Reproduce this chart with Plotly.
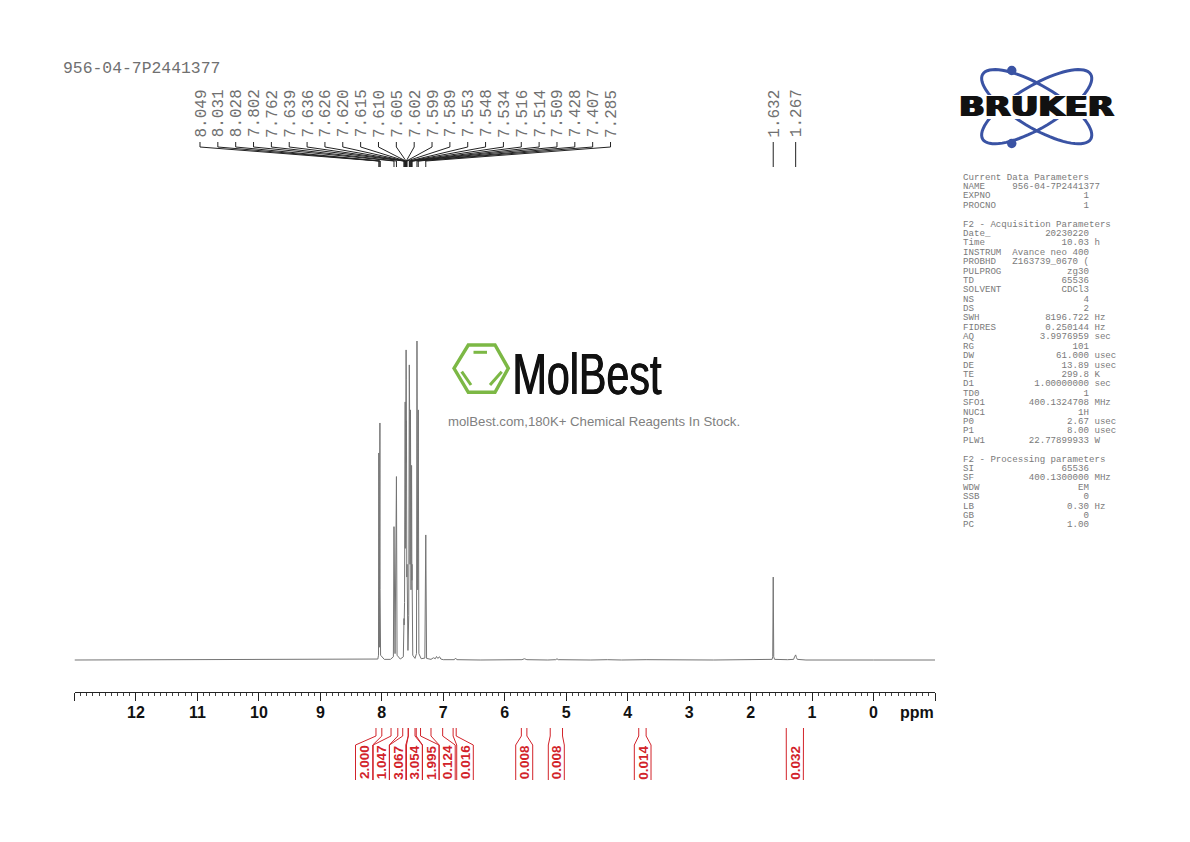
import numpy as np
import plotly.graph_objects as go

W, H = 1190, 842

# spectrum: ppm and relative intensity (tallest peak = 100)
spectrum_ppm = [13.0, 11.2, 9.6, 8.6, 8.2, 8.065, 8.054, 8.049, 8.040, 8.031, 8.029, 8.028, 8.020, 7.96, 7.86, 7.812,
                7.802, 7.785, 7.762, 7.752, 7.70, 7.65, 7.639, 7.637, 7.636, 7.63, 7.626, 7.623, 7.620, 7.617, 7.615, 7.612,
                7.610, 7.607, 7.605, 7.603, 7.602, 7.600, 7.599, 7.594, 7.589, 7.575, 7.562, 7.553, 7.550, 7.548, 7.541,
                7.534, 7.525, 7.516, 7.515, 7.514, 7.511, 7.509, 7.497, 7.46, 7.436, 7.428, 7.417, 7.407, 7.397, 7.36, 7.30,
                7.285, 7.272, 7.20, 7.16, 7.13, 7.11, 7.09, 7.06, 7.04, 7.0, 6.9, 6.82, 6.80, 6.78, 6.4, 5.72, 5.68, 5.64,
                5.3, 5.17, 5.15, 5.13, 4.6, 4.36, 4.33, 4.1, 3.74, 3.72, 3.70, 2.6, 1.95, 1.65, 1.64, 1.632, 1.624, 1.61,
                1.40, 1.30, 1.285, 1.267, 1.255, 1.24, 1.1, 0.4, 0.0, -1.0]
spectrum_int = [0.0, 0.1, 0.0, 0.1, 0.1, 0.3, 1.5, 64.9, 4.0, 74.3, 24.0, 22.0, 1.5, 0.2, 0.2, 1.0,
                41.8, 2.0, 57.5, 1.5, 0.3, 1.0, 13.0, 11.0, 12.0, 18.0, 35.0, 28.0, 80.9, 35.0, 47.0, 38.0,
                60.0, 45.0, 97.2, 80.0, 88.0, 62.0, 75.0, 26.0, 30.0, 3.0, 14.0, 92.5, 55.0, 78.0, 30.0,
                78.4, 22.0, 61.0, 44.0, 50.0, 25.0, 30.0, 1.5, 0.5, 2.0, 100.0, 22.0, 78.4, 2.0, 0.4, 0.6,
                39.2, 0.5, 0.2, 0.7, 0.4, 1.1, 0.5, 1.0, 0.3, 0.1, 0.1, 0.1, 0.6, 0.1, 0.0, 0.1, 0.4, 0.1,
                0.0, 0.1, 0.4, 0.1, 0.0, 0.2, 0.1, 0.0, 0.1, 0.3, 0.1, 0.0, 0.1, 0.2, 1.0, 26.0, 1.0, 0.2,
                0.1, 0.2, 1.0, 1.6, 0.8, 0.2, 0.0, 0.1, 0.0, 0.0]

# labels over the peaks
peak_labels = ["8.049", "8.031", "8.028", "7.802", "7.762", "7.639", "7.636", "7.626", "7.620", "7.615", "7.610", "7.605",
               "7.602", "7.599", "7.589", "7.553", "7.548", "7.534", "7.516", "7.514", "7.509", "7.428", "7.407", "7.285"]
single_labels = ["1.632", "1.267"]

# integrals: limits in ppm and the value written under them
integral_left = [8.095, 7.85, 7.66, 7.57, 7.44, 7.20, 6.84, 5.73, 5.26, 3.82, 1.42]
integral_right = [8.0, 7.74, 7.57, 7.46, 7.37, 7.01, 6.79, 5.64, 5.06, 3.70, 1.14]
integral_values = ["2.000", "1.047", "3.067", "3.054", "1.995", "0.124", "0.016", "0.008", "0.008", "0.014", "0.032"]

tick_vals = [13, 12, 11, 10, 9, 8, 7, 6, 5, 4, 3, 2, 1, 0, -1]
tick_labels = ["", "12", "11", "10", "9", "8", "7", "6", "5", "4", "3", "2", "1", "0", ""]

# parameter block, rows as (name, value, unit)
param_rows = [
    ("Current Data Parameters",), ("NAME", "956-04-7P2441377", ""), ("EXPNO", "1", ""), ("PROCNO", "1", ""), (),
    ("F2 - Acquisition Parameters",), ("Date_", "20230220", ""), ("Time", "10.03", "h"),
    ("INSTRUM", "Avance neo 400", ""), ("PROBHD", "Z163739_0670 (", ""), ("PULPROG", "zg30", ""), ("TD", "65536", ""),
    ("SOLVENT", "CDCl3", ""), ("NS", "4", ""), ("DS", "2", ""), ("SWH", "8196.722", "Hz"), ("FIDRES", "0.250144", "Hz"),
    ("AQ", "3.9976959", "sec"), ("RG", "101", ""), ("DW", "61.000", "usec"), ("DE", "13.89", "usec"), ("TE", "299.8", "K"),
    ("D1", "1.00000000", "sec"), ("TD0", "1", ""), ("SFO1", "400.1324708", "MHz"), ("NUC1", "1H", ""),
    ("P0", "2.67", "usec"), ("P1", "8.00", "usec"), ("PLW1", "22.77899933", "W"), (),
    ("F2 - Processing parameters",), ("SI", "65536", ""), ("SF", "400.1300000", "MHz"), ("WDW", "EM", ""), ("SSB", "0", ""),
    ("LB", "0.30", "Hz"), ("GB", "0", ""), ("PC", "1.00", ""),
]

# page pixels to axis and paper units
BASE_Y = 660.0
PX_PER_INT = 3.19
X0, PX_PER_PPM = 873.5, 61.46


def to_ppm(px):
    return (X0 - px) / PX_PER_PPM


def to_int(py):
    return (BASE_Y - py) / PX_PER_INT


def fx(px):
    return px / W


def fy(py):
    return 1 - py / H


def leader_trace(xs, ys, color):
    return go.Scatter(x=xs, y=ys, mode="lines", line=dict(color=color, width=1), hoverinfo="skip", showlegend=False)


fig = go.Figure()

fig.add_trace(go.Scatter(x=spectrum_ppm, y=spectrum_int, mode="lines", line=dict(color="#747474", width=1),
                         hoverinfo="skip", showlegend=False))

annotations = []


def add_text(px, py, text, size, color, family, bold=False, angle=0, xanchor="center", **font_extra):
    if xanchor == "left":
        px -= 1.5
    annotations.append(dict(x=fx(px), y=fy(py), xref="paper", yref="paper", text=text, showarrow=False, textangle=angle,
                            xanchor=xanchor, yanchor="middle", borderpad=0,
                            font=dict(size=size, color=color, family=family, weight=700 if bold else 400, **font_extra)))


# peak labels with their bent leader lines
MONO = "Liberation Mono"
LABEL_GREY = "#707070"
peak_ppm = [float(v) for v in peak_labels]
lx, ly = [], []
for i, lab in enumerate(peak_labels):
    label_px = 200 + i * (610.5 - 200) / (len(peak_labels) - 1)
    add_text(label_px + 2, 113.5, lab, 16, LABEL_GREY, MONO, angle=-90)
    lx += [to_ppm(label_px), to_ppm(label_px), peak_ppm[i], peak_ppm[i], None]
    ly += [to_int(142), to_int(147), to_int(161), to_int(167), None]
for lab in single_labels:
    v = float(lab)
    add_text(X0 - v * PX_PER_PPM + 2, 113.5, lab, 16, LABEL_GREY, MONO, angle=-90)
    lx += [v, v, None]
    ly += [to_int(142), to_int(167), None]
fig.add_trace(leader_trace(lx, ly, "#222222"))

# integral brackets under the axis
RED = "#d2232a"
bracket_left = [355.5, 373.2, 389.5, 406.5, 422.5, 439.2, 456.7, 515.7, 548.3, 634.3, 786.3]
bracket_right = [372.7, 389.3, 405.8, 422.3, 439.0, 455.2, 473.3, 532.7, 564.3, 651.0, 803.3]
ix, iy = [], []
for i, val in enumerate(integral_values):
    for ppm, px in ((integral_left[i], bracket_left[i]), (integral_right[i], bracket_right[i])):
        ix += [ppm, ppm, to_ppm(px), to_ppm(px), None]
        iy += [to_int(728), to_int(736), to_int(745), to_int(780), None]
    add_text((bracket_left[i] + bracket_right[i]) / 2 + 0.5, 762.5, val, 13.5, RED, "Liberation Sans", bold=True, angle=-90)
fig.add_trace(leader_trace(ix, iy, RED))

add_text(917, 712, "ppm", 16, "#111111", "Liberation Sans", bold=True)
add_text(63, 68, "956-04-7P2441377", 16.4, LABEL_GREY, MONO, xanchor="left")

# parameter block
for i, row in enumerate(param_rows):
    if not row:
        continue
    if len(row) == 1:
        line = row[0]
    elif len(row[1]) > 15:
        line = row[0].ljust(9) + row[1]
    else:
        line = row[0].ljust(8) + row[1].rjust(15) + (" " + row[2] if row[2] else "")
    add_text(963, 177 + i * 9.4, line, 9.13, "#7a7a7a", MONO, xanchor="left")

# MolBest watermark
add_text(587, 373.5, "MolBest", 57, "#111111", "Liberation Sans", shadow="0.6px 0 0 #111111, -0.6px 0 0 #111111")
add_text(594, 421.5, "molBest.com,180K+ Chemical Reagents In Stock.", 13.2, "#808080", "Liberation Sans")

shapes = []
GREEN = "#7cb845"


def poly(points, color, width, close=False):
    path = "M " + " L ".join(f"{fx(x):.5f} {fy(y):.5f}" for x, y in points) + (" Z" if close else "")
    shapes.append(dict(type="path", path=path, xref="paper", yref="paper", line=dict(color=color, width=width)))


poly([(454, 368.3), (468.3, 345), (495, 345), (508.3, 368.3), (495, 392.3), (468.3, 392.3)], GREEN, 3.4, close=True)
poly([(473.5, 352.3), (487, 352.3)], GREEN, 3)
poly([(461.7, 371.7), (471, 385)], GREEN, 3)
poly([(490, 385), (501.7, 371.7)], GREEN, 3)

# Bruker logo: two crossed orbits and two electrons
BLUE = "#3a53a4"
t = np.linspace(0, 2 * np.pi, 73)
for tilt in (np.radians(31), np.radians(-31)):
    ex = 1036.7 + 63 * np.cos(t) * np.cos(tilt) - 21 * np.sin(t) * np.sin(tilt)
    ey = 106.7 + 63 * np.cos(t) * np.sin(tilt) + 21 * np.sin(t) * np.cos(tilt)
    poly(list(zip(ex, ey)), BLUE, 3, close=True)
for cy in (70.5, 143.5):
    shapes.append(dict(type="circle", xref="paper", yref="paper", x0=fx(1007), x1=fx(1016.5), y0=fy(cy - 4.7), y1=fy(cy + 4.7),
                       fillcolor=BLUE, line=dict(color=BLUE, width=0)))
shapes.append(dict(type="rect", xref="paper", yref="paper", x0=fx(955), x1=fx(1118), y0=fy(95), y1=fy(119),
                   fillcolor="white", line=dict(width=0)))
add_text(1036.5, 106.5, "BRUKER", 26, "#111111", "DejaVu Sans", bold=True, shadow="1px 0 0 #111111, -1px 0 0 #111111")

fig.update_layout(
    width=W,
    height=H,
    margin=dict(l=0, r=0, t=0, b=0),
    paper_bgcolor="white",
    plot_bgcolor="white",
    showlegend=False,
    annotations=annotations,
    shapes=shapes,
    xaxis=dict(
        domain=[fx(74.5), fx(935)],
        range=[13, -1],
        anchor="free",
        position=fy(691.5),
        showgrid=False,
        zeroline=False,
        showline=True,
        linecolor="#222222",
        linewidth=1.2,
        tickmode="array",
        tickvals=tick_vals,
        ticktext=tick_labels,
        ticks="outside",
        ticklen=8,
        tickwidth=1.2,
        tickcolor="#222222",
        ticklabelstandoff=-2,
        tickfont=dict(family="Liberation Sans", size=16, color="#111111", weight=700),
        minor=dict(dtick=0.1, tick0=0, ticks="outside", ticklen=3.5, tickwidth=1, tickcolor="#444444", showgrid=False),
    ),
    yaxis=dict(
        domain=[fy(800), fy(60)],
        range=[to_int(800), to_int(60)],
        visible=False,
    ),
)

# the two logo words are stretched to their width on the page
post_js = """
document.body.style.margin = '0';
var gd = document.getElementById('{plot_id}');
var stretch = function() {
    var widths = {'MolBest': 149, 'BRUKER': 155};
    gd.querySelectorAll('.annotation-text').forEach(function(el) {
        var w = widths[el.textContent];
        if (w) {
            el.setAttribute('textLength', w);
            el.setAttribute('lengthAdjust', 'spacingAndGlyphs');
        }
    });
};
gd.on('plotly_afterplot', stretch);
stretch();
"""

fig.write_html("out.html", post_script=post_js, config=dict(displayModeBar=False))
